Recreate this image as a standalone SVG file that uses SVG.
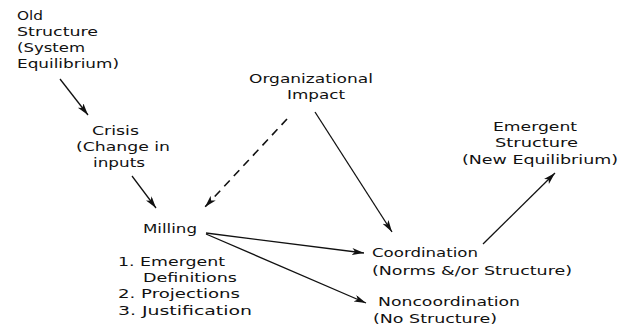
<svg xmlns="http://www.w3.org/2000/svg" width="630" height="326" viewBox="0 0 630 326">
  <defs>
    <style>
      .lbl { font-family: "DejaVu Sans", "Liberation Sans", sans-serif; font-size: 13px; fill: #111; }
      .edge { stroke: #111; stroke-width: 1.3; fill: none; }
      .dash { stroke-dasharray: 8 6; stroke-width: 1.6; }
    </style>
    <marker id="arrow" markerUnits="userSpaceOnUse" markerWidth="14" markerHeight="8" refX="12" refY="3.5" orient="auto">
      <path d="M0,0 L12,3.5 L0,7 L3,3.5 Z" fill="#111"/>
    </marker>
  </defs>

  <!-- connectors -->
  <g id="connectors">
    <line class="edge" x1="60" y1="79" x2="88" y2="115" marker-end="url(#arrow)"/>
    <line class="edge" x1="132" y1="176" x2="156" y2="208" marker-end="url(#arrow)"/>
    <line class="edge dash" x1="287" y1="119" x2="205" y2="207" marker-end="url(#arrow)"/>
    <line class="edge" x1="315" y1="112" x2="392" y2="232" marker-end="url(#arrow)"/>
    <line class="edge" x1="206" y1="233" x2="364" y2="253" marker-end="url(#arrow)"/>
    <line class="edge" x1="206" y1="234" x2="366" y2="303" marker-end="url(#arrow)"/>
    <line class="edge" x1="483" y1="244" x2="555" y2="173" marker-end="url(#arrow)"/>
  </g>

  <g id="old-structure">
    <text class="lbl" x="17" y="20" textLength="26" lengthAdjust="spacingAndGlyphs">Old</text>
    <text class="lbl" x="17" y="36" textLength="81" lengthAdjust="spacingAndGlyphs">Structure</text>
    <text class="lbl" x="17" y="52" textLength="68" lengthAdjust="spacingAndGlyphs">(System</text>
    <text class="lbl" x="17" y="68" textLength="102" lengthAdjust="spacingAndGlyphs">Equilibrium)</text>
  </g>

  <g id="crisis">
    <text class="lbl" x="92" y="135" textLength="47" lengthAdjust="spacingAndGlyphs">Crisis</text>
    <text class="lbl" x="76" y="151" textLength="94" lengthAdjust="spacingAndGlyphs">(Change in</text>
    <text class="lbl" x="93" y="167" textLength="52" lengthAdjust="spacingAndGlyphs">inputs</text>
  </g>

  <g id="organizational-impact">
    <text class="lbl" x="249" y="83" textLength="124" lengthAdjust="spacingAndGlyphs">Organizational</text>
    <text class="lbl" x="287" y="99" textLength="58" lengthAdjust="spacingAndGlyphs">Impact</text>
  </g>

  <g id="milling">
    <text class="lbl" x="143" y="233" textLength="54" lengthAdjust="spacingAndGlyphs">Milling</text>
    <text class="lbl" x="118" y="266" textLength="107" lengthAdjust="spacingAndGlyphs">1. Emergent</text>
    <text class="lbl" x="143" y="282" textLength="94" lengthAdjust="spacingAndGlyphs">Definitions</text>
    <text class="lbl" x="118" y="298" textLength="122" lengthAdjust="spacingAndGlyphs">2. Projections</text>
    <text class="lbl" x="118" y="315" textLength="134" lengthAdjust="spacingAndGlyphs">3. Justification</text>
  </g>

  <g id="coordination">
    <text class="lbl" x="372" y="257" textLength="106" lengthAdjust="spacingAndGlyphs">Coordination</text>
    <text class="lbl" x="372" y="275" textLength="200" lengthAdjust="spacingAndGlyphs">(Norms &amp;/or Structure)</text>
  </g>

  <g id="noncoordination">
    <text class="lbl" x="378" y="306" textLength="142" lengthAdjust="spacingAndGlyphs">Noncoordination</text>
    <text class="lbl" x="373" y="323" textLength="124" lengthAdjust="spacingAndGlyphs">(No Structure)</text>
  </g>

  <g id="emergent-structure">
    <text class="lbl" x="493" y="131" textLength="84" lengthAdjust="spacingAndGlyphs">Emergent</text>
    <text class="lbl" x="495" y="147" textLength="83" lengthAdjust="spacingAndGlyphs">Structure</text>
    <text class="lbl" x="462" y="164" textLength="156" lengthAdjust="spacingAndGlyphs">(New Equilibrium)</text>
  </g>
</svg>
